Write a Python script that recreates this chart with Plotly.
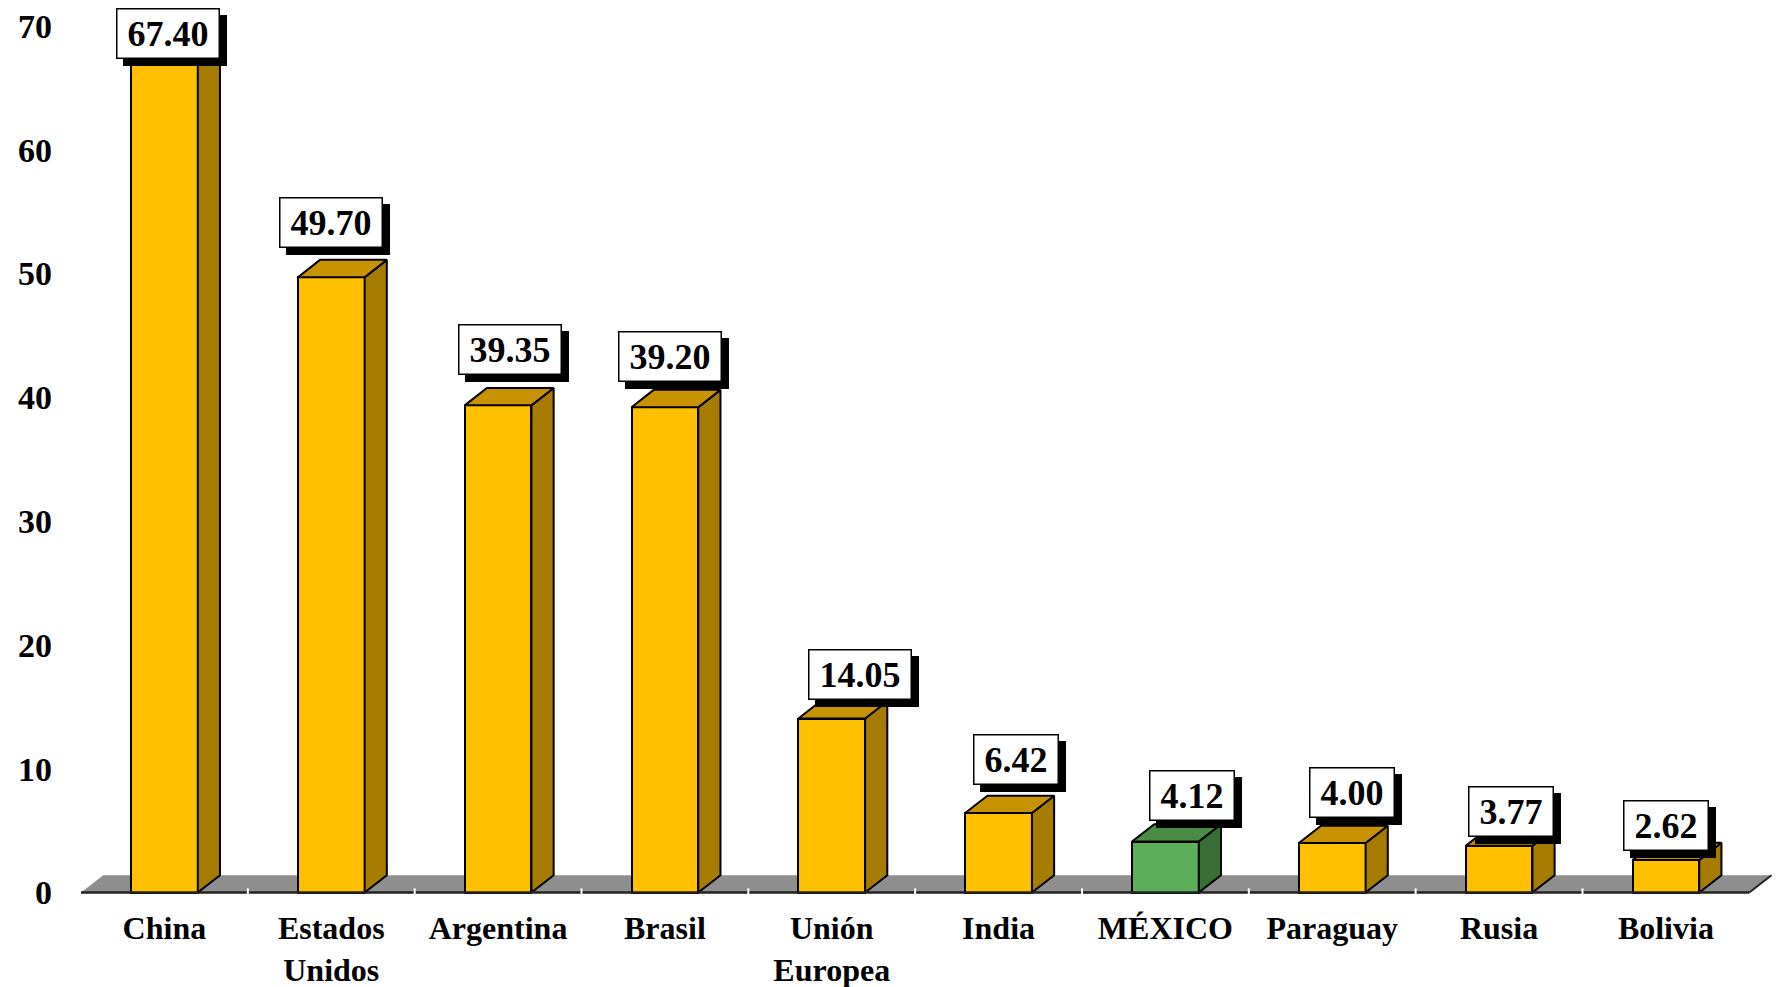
import plotly.graph_objects as go

# ---------------- data ----------------
categories = ["China", "Estados<br>Unidos", "Argentina", "Brasil", "Unión<br>Europea",
              "India", "MÉXICO", "Paraguay", "Rusia", "Bolivia"]
values = [67.40, 49.70, 39.35, 39.20, 14.05, 6.42, 4.12, 4.00, 3.77, 2.62]
highlight = "MÉXICO"
y_ticks = [0, 10, 20, 30, 40, 50, 60, 70]

# ---------------- style ----------------
FONT = "Liberation Serif"
LABEL_SIZE = 36
FRONT, SIDE, TOP = "#FFC000", "#A67C00", "#C89300"
G_FRONT, G_SIDE, G_TOP = "#5DAE58", "#3A6E37", "#4A8C45"
BAR_W = 0.40          # front face width (category units)
DX = 0.133            # depth offset, category units
DY = 1.40             # depth offset, value units
# label box placement (style only): horizontal offset (category units) and gap (px)
label_dx = [0.024, 0.0, 0.072, 0.033, 0.168, 0.102, 0.162, 0.12, 0.072, 0.0]
label_gap = [-1, 29, 30, 25, 19, 28, 21, 25, 9, 9]

n = len(values)
xs = list(range(n))
fig = go.Figure()

front_cols = [G_FRONT if c == highlight else FRONT for c in categories]

# front faces
fig.add_trace(go.Bar(
    x=xs, y=values, width=BAR_W,
    marker=dict(color=front_cols, line=dict(color="black", width=2)),
    hoverinfo="skip", showlegend=False))

# side and top faces
for i, v in enumerate(values):
    x0, x1 = i - BAR_W / 2, i + BAR_W / 2
    side_c = G_SIDE if categories[i] == highlight else SIDE
    top_c = G_TOP if categories[i] == highlight else TOP
    fig.add_trace(go.Scatter(
        x=[x1, x1 + DX, x1 + DX, x1, x1], y=[0, DY, v + DY, v, 0],
        fill="toself", fillcolor=side_c, mode="lines",
        line=dict(color="black", width=2), hoverinfo="skip", showlegend=False))
    fig.add_trace(go.Scatter(
        x=[x0, x0 + DX, x1 + DX, x1, x0], y=[v, v + DY, v + DY, v, v],
        fill="toself", fillcolor=top_c, mode="lines",
        line=dict(color="black", width=2), hoverinfo="skip", showlegend=False))

# baseline + boundary marks
fig.add_trace(go.Scatter(x=[-0.5, n - 0.5], y=[0, 0], mode="lines",
                         line=dict(color="#222222", width=2.5),
                         hoverinfo="skip", showlegend=False))
fig.add_trace(go.Scatter(x=[k - 0.5 for k in range(1, n)], y=[0] * (n - 1), mode="markers",
                         marker=dict(symbol="line-ns", size=6, line=dict(color="white", width=2)),
                         hoverinfo="skip", showlegend=False))

# floor (decoration)
shapes = [
    dict(type="path", xref="x", yref="y", layer="below",
         path=f"M {-0.5},0 L {n-0.5},0 L {n-0.5+DX},{DY} L {-0.5+DX},{DY} Z",
         fillcolor="#8E8E8E", line=dict(width=0)),
    dict(type="line", xref="x", yref="y", x0=n - 0.5, y0=0, x1=n - 0.5 + DX, y1=DY,
         line=dict(color="#222222", width=2)),
]

# value label boxes with shadow
annotations = []
for i, v in enumerate(values):
    txt = f"{v:.2f}"
    ndig = sum(ch.isdigit() for ch in txt)
    box_w = round(LABEL_SIZE * (0.5 * ndig + 0.25) + LABEL_SIZE * 0.5)
    common = dict(x=i + label_dx[i], y=v, xref="x", yref="y", showarrow=False,
                  yanchor="bottom", xanchor="center", height=46, width=box_w,
                  borderpad=1, borderwidth=1.5)
    annotations.append(dict(common, text="\u00a0", xshift=7, yshift=label_gap[i] - 7,
                            font=dict(family=FONT, size=LABEL_SIZE, color="black"),
                            bgcolor="black", bordercolor="black"))
    annotations.append(dict(common, text=txt, yshift=label_gap[i],
                            font=dict(family=FONT, size=LABEL_SIZE, color="black", weight="bold"),
                            bgcolor="white", bordercolor="black"))

fig.update_layout(
    width=1777, height=987,
    margin=dict(l=71, r=1, t=0, b=92),
    paper_bgcolor="white", plot_bgcolor="white",
    shapes=shapes, annotations=annotations,
    showlegend=False, bargap=0,
    xaxis=dict(range=[-0.56, 9.66], tickmode="array", tickvals=xs, ticktext=categories,
               showgrid=False, zeroline=False, showline=False, ticks="",
               ticklabelstandoff=11,
               tickfont=dict(family=FONT, size=32, color="black", weight="bold")),
    yaxis=dict(range=[-0.2, 72.09], tickmode="array", tickvals=y_ticks,
               ticktext=[str(t) for t in y_ticks],
               showgrid=False, zeroline=False, showline=False, ticks="",
               ticklabelstandoff=18,
               tickfont=dict(family=FONT, size=34, color="black", weight="bold")),
)

fig.write_html("out.html", config={"displayModeBar": False},
               post_script="document.body.style.margin='0';")
